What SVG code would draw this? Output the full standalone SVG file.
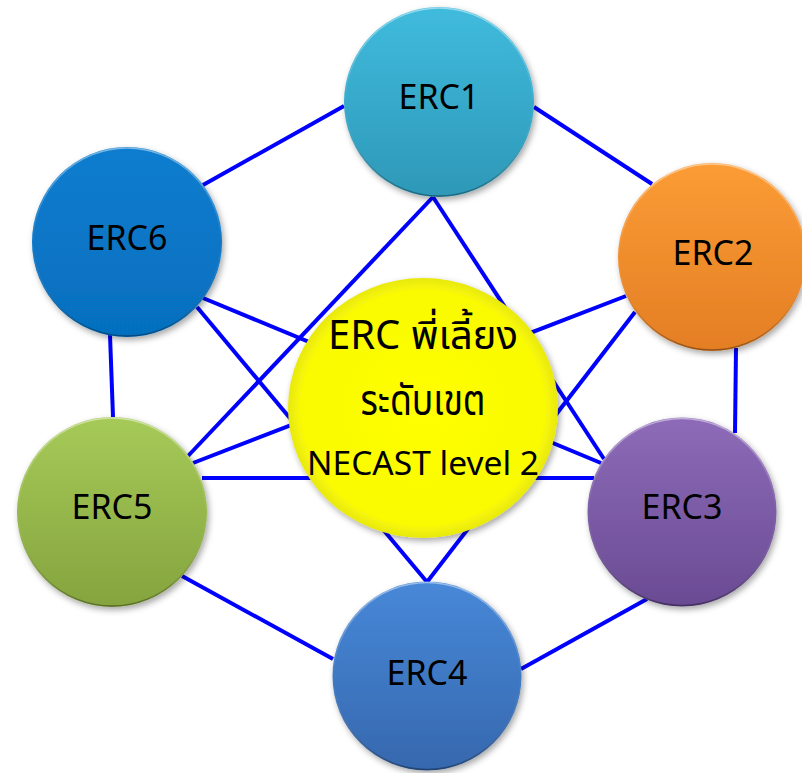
<svg xmlns="http://www.w3.org/2000/svg" width="802" height="773" viewBox="0 0 802 773">
  <style>
    .edge { stroke: #0000FF; stroke-width: 4; fill: none; stroke-linecap: butt; }
    .node { filter: url(#shadow); }
    .rim { fill: none; stroke-width: 1.5; }
    .lbl { font-family: "Noto Sans", "Noto Sans Thai", "DejaVu Sans", sans-serif; font-size: 34px; fill: #000; text-anchor: middle; }
    .ctr { font-family: "Noto Sans", "Noto Sans Thai", "Noto Sans Thai UI", "DejaVu Sans", sans-serif; fill: #000; text-anchor: middle; }
  </style>
  <defs>
    <filter id="shadow" x="-20%" y="-20%" width="150%" height="150%">
      <feDropShadow dx="2" dy="3" stdDeviation="3" flood-color="#000" flood-opacity="0.35"/>
    </filter>
    <linearGradient id="gC" x1="0" y1="0" x2="0" y2="1">
      <stop offset="0" stop-color="#40BBDD"/>
      <stop offset="1" stop-color="#2E98B8"/>
    </linearGradient>
    <linearGradient id="gO" x1="0" y1="0" x2="0" y2="1">
      <stop offset="0" stop-color="#FB9C35"/>
      <stop offset="1" stop-color="#E47E24"/>
    </linearGradient>
    <linearGradient id="gP" x1="0" y1="0" x2="0" y2="1">
      <stop offset="0" stop-color="#8D6BB8"/>
      <stop offset="1" stop-color="#6A4B93"/>
    </linearGradient>
    <linearGradient id="gB" x1="0" y1="0" x2="0" y2="1">
      <stop offset="0" stop-color="#4788D8"/>
      <stop offset="1" stop-color="#3668AE"/>
    </linearGradient>
    <linearGradient id="gG" x1="0" y1="0" x2="0" y2="1">
      <stop offset="0" stop-color="#A6CA58"/>
      <stop offset="1" stop-color="#85A43E"/>
    </linearGradient>
    <linearGradient id="gD" x1="0" y1="0" x2="0" y2="1">
      <stop offset="0" stop-color="#0A7DCF"/>
      <stop offset="1" stop-color="#066EBE"/>
    </linearGradient>
    <radialGradient id="gY" cx="0.5" cy="0.5" r="0.5">
      <stop offset="0" stop-color="#FFFF00"/>
      <stop offset="0.9" stop-color="#FAFA05"/>
      <stop offset="1" stop-color="#E8E810"/>
    </radialGradient>
    <linearGradient id="bevel" x1="0" y1="0" x2="0" y2="1">
      <stop offset="0" stop-color="#FFFFFF" stop-opacity="0.45"/>
      <stop offset="0.5" stop-color="#FFFFFF" stop-opacity="0"/>
      <stop offset="1" stop-color="#000000" stop-opacity="0.35"/>
    </linearGradient>
  </defs>

  <g id="connectors">
    <line class="edge" x1="344" y1="106" x2="203" y2="185"/>
    <line class="edge" x1="534" y1="107" x2="652" y2="184"/>
    <line class="edge" x1="433" y1="197" x2="188" y2="456"/>
    <line class="edge" x1="433" y1="197" x2="604" y2="459"/>
    <line class="edge" x1="203" y1="298" x2="601" y2="463"/>
    <line class="edge" x1="197" y1="307" x2="427" y2="582"/>
    <line class="edge" x1="110" y1="335" x2="113" y2="417"/>
    <line class="edge" x1="193" y1="463" x2="626" y2="296"/>
    <line class="edge" x1="202" y1="478" x2="594" y2="478"/>
    <line class="edge" x1="182" y1="576" x2="333" y2="659"/>
    <line class="edge" x1="521" y1="669" x2="647" y2="599"/>
    <line class="edge" x1="736" y1="348" x2="735" y2="433"/>
    <line class="edge" x1="635" y1="312" x2="427" y2="582"/>
  </g>

  <g id="center">
    <ellipse class="node" cx="423" cy="408" rx="135" ry="130" fill="url(#gY)"/>
    <text class="ctr" x="423" y="349" font-size="40">ERC พี่เลี้ยง</text>
    <text class="ctr" x="423" y="415" font-size="42" textLength="125" lengthAdjust="spacingAndGlyphs">ระดับเขต</text>
    <text class="ctr" x="423" y="475" font-size="32" textLength="232" lengthAdjust="spacingAndGlyphs">NECAST level 2</text>
  </g>

  <g id="erc1">
    <circle class="node" cx="439" cy="102" r="95" fill="url(#gC)"/>
    <circle class="rim" cx="439" cy="102" r="94" stroke="url(#bevel)"/>
    <text class="lbl" x="439" y="109">ERC1</text>
  </g>
  <g id="erc2">
    <circle class="node" cx="712" cy="257" r="94" fill="url(#gO)"/>
    <circle class="rim" cx="712" cy="257" r="93" stroke="url(#bevel)"/>
    <text class="lbl" x="713" y="265">ERC2</text>
  </g>
  <g id="erc3">
    <circle class="node" cx="682" cy="512" r="94.5" fill="url(#gP)"/>
    <circle class="rim" cx="682" cy="512" r="93.5" stroke="url(#bevel)"/>
    <text class="lbl" x="682" y="519">ERC3</text>
  </g>
  <g id="erc4">
    <circle class="node" cx="427" cy="676" r="94.5" fill="url(#gB)"/>
    <circle class="rim" cx="427" cy="676" r="93.5" stroke="url(#bevel)"/>
    <text class="lbl" x="427" y="685">ERC4</text>
  </g>
  <g id="erc5">
    <circle class="node" cx="112" cy="512" r="95" fill="url(#gG)"/>
    <circle class="rim" cx="112" cy="512" r="94" stroke="url(#bevel)"/>
    <text class="lbl" x="112" y="519">ERC5</text>
  </g>
  <g id="erc6">
    <circle class="node" cx="127" cy="242" r="95" fill="url(#gD)"/>
    <circle class="rim" cx="127" cy="242" r="94" stroke="url(#bevel)"/>
    <text class="lbl" x="127" y="250">ERC6</text>
  </g>
</svg>
